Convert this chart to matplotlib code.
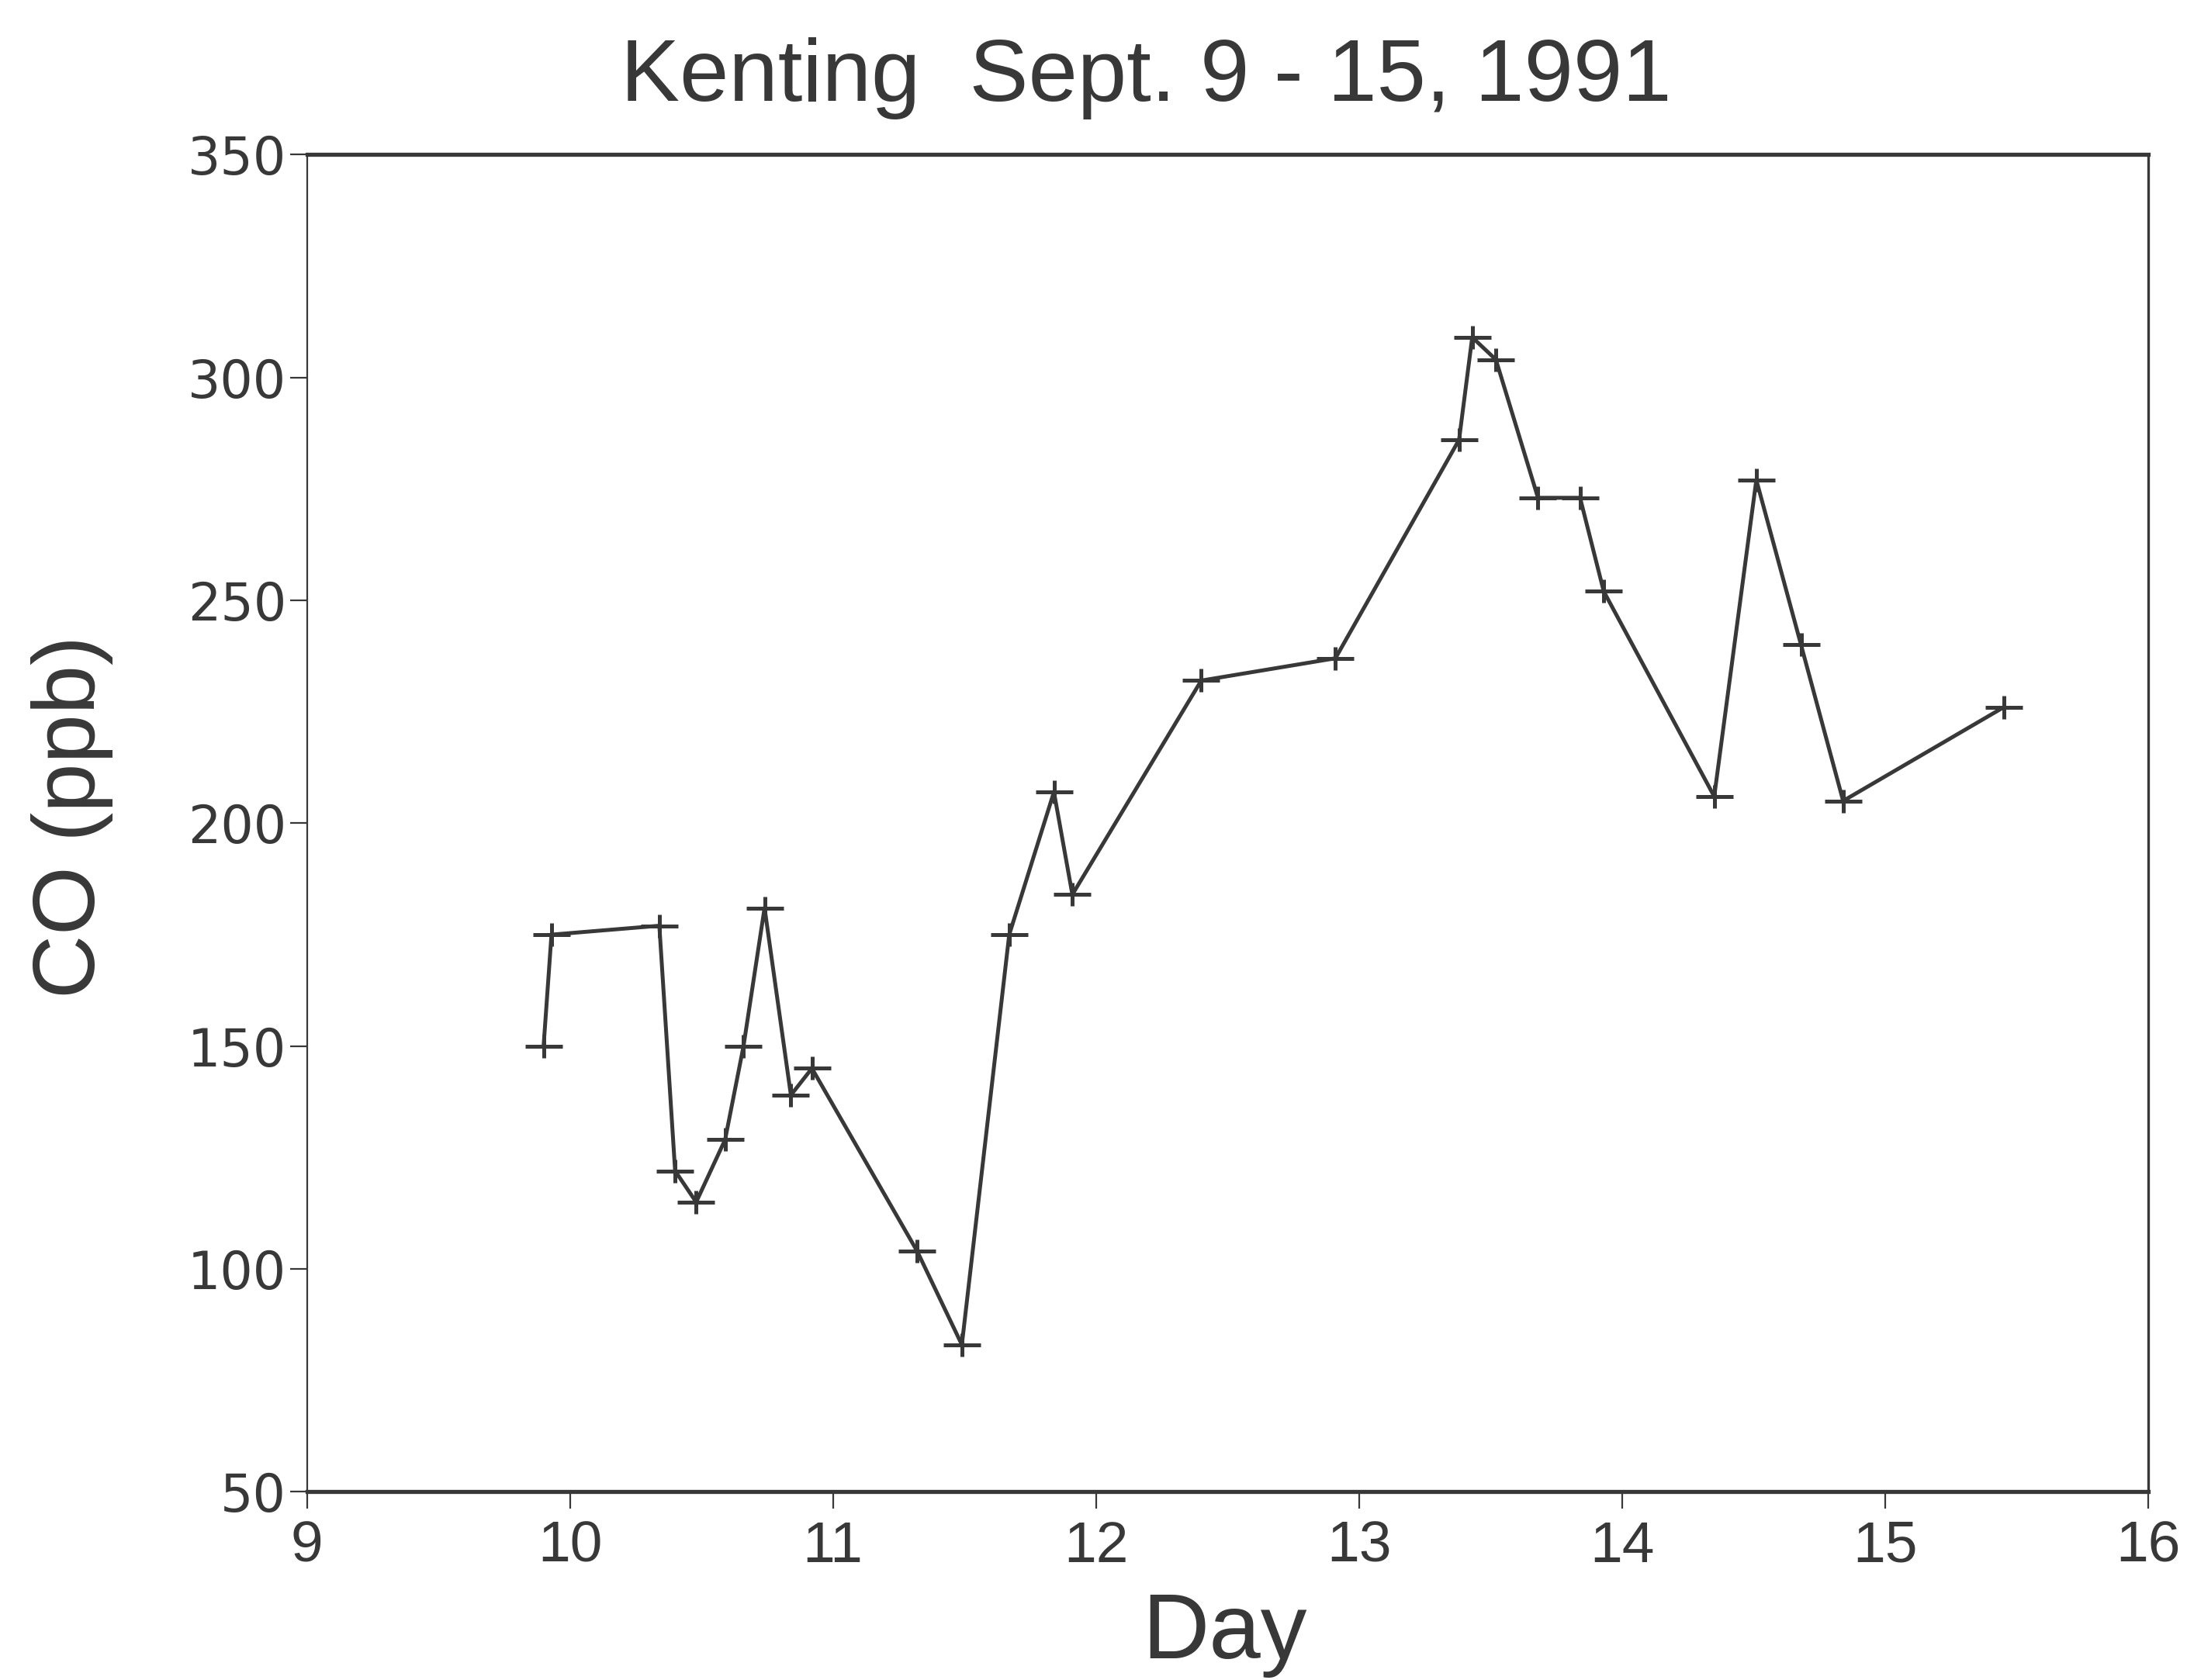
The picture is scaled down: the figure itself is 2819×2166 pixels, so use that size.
import matplotlib
matplotlib.use("Agg")
import matplotlib.pyplot as plt
from matplotlib.path import Path

# CO mixing ratio at Kenting, September 1991
day = [9.90, 9.93, 10.34, 10.40, 10.48, 10.59, 10.66, 10.74, 10.84, 10.92,
       11.32, 11.49, 11.67, 11.84, 11.91, 12.40, 12.91, 13.38, 13.43, 13.52,
       13.68, 13.84, 13.93, 14.35, 14.51, 14.68, 14.84, 15.45]
co_ppb = [150, 175, 177, 122, 115, 129, 150, 181, 139, 145,
          104, 83, 175, 207, 184, 232, 237, 286, 309, 304,
          273, 273, 252, 206, 277, 240, 205, 226]

x_ticks = [9, 10, 11, 12, 13, 14, 15, 16]
y_ticks = [50, 100, 150, 200, 250, 300, 350]

ink = "#383838"
plt.rcParams["font.family"] = ["Liberation Sans", "DejaVu Sans"]

fig = plt.figure(figsize=(28.19, 21.66), dpi=100)
ax = fig.add_axes([0.1403, 0.1120, 0.8420, 0.7960])

# wide, flat plus sign
cross = Path([(-1, 0), (1, 0), (0, -0.65), (0, 0.65)],
             [Path.MOVETO, Path.LINETO, Path.MOVETO, Path.LINETO])

ax.plot(day, co_ppb, color=ink, lw=3.6, marker=cross, markersize=34,
        markeredgewidth=3.6, markeredgecolor=ink)

ax.set_xlim(9, 16)
ax.set_ylim(50, 350)
ax.set_xticks(x_ticks)
ax.set_yticks(y_ticks)
ax.set_xticklabels([str(t) for t in x_ticks], family="Liberation Sans")
ax.set_yticklabels([str(t) for t in y_ticks], family="DejaVu Sans")

ax.tick_params(axis="x", direction="out", length=16, width=1.6,
               color=ink, labelcolor=ink, labelsize=54, pad=10)
ax.tick_params(axis="y", direction="out", length=16, width=1.6,
               color=ink, labelcolor=ink, labelsize=48, pad=3)

for side, w in (("top", 3.8), ("bottom", 3.8), ("left", 1.6), ("right", 2.4)):
    ax.spines[side].set_linewidth(w)
    ax.spines[side].set_color(ink)

fig.text(0.524, 0.940, "Kenting  Sept. 9 - 15, 1991", ha="center",
         va="baseline", fontsize=82, color=ink)
fig.text(0.560, 0.013, "Day", ha="center", va="baseline", fontsize=86,
         color=ink)
fig.text(0.0330, 0.514, "CO (ppb)", ha="center", va="center", rotation=90,
         fontsize=82, color=ink)

fig.savefig("out.png", dpi=100, facecolor="white")
